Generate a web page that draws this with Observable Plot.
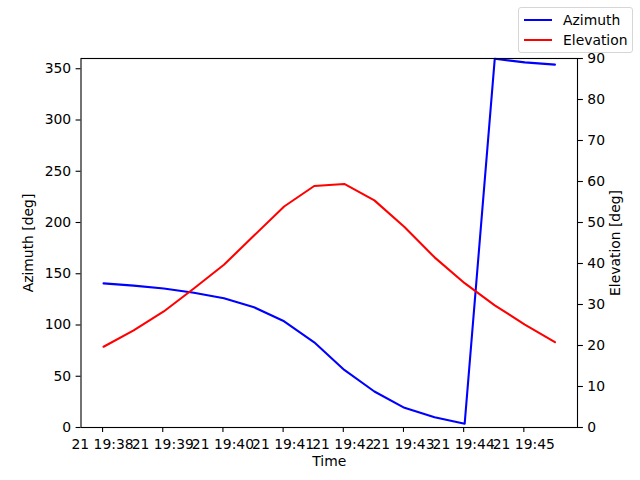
<!DOCTYPE html>
<html><head><meta charset="utf-8">
<script src="https://cdn.jsdelivr.net/npm/d3@7"></script>
<script src="https://cdn.jsdelivr.net/npm/@observablehq/plot@0.6"></script>
<style>
body{margin:0;background:#fff;}
#wrap{position:relative;width:640px;height:480px;font-family:"DejaVu Sans";font-size:13.9px;color:#000;}
#wrap svg{position:absolute;left:0;top:0;}
#legend{position:absolute;left:518px;top:7px;width:113px;height:44px;border:1px solid #d6d6d6;border-radius:3px;background:rgba(255,255,255,0.8);}
.item{position:absolute;left:0;height:20px;width:113px;}
.swatch{position:absolute;left:5px;top:9px;width:28px;height:2px;}
.lab{position:absolute;left:44px;top:1px;line-height:18px;white-space:nowrap;}
</style></head><body><div id="wrap"><div id="legend"></div></div>
<script>
// Sample times (UTC, day 21)
const times = ["19:38:01","19:38:31","19:39:01","19:39:31","19:40:01","19:40:31","19:41:01","19:41:31",
               "19:42:01","19:42:31","19:43:01","19:43:31","19:44:01","19:44:31","19:45:01","19:45:31"];
// Azimuth [deg]
const azimuth = [140.6, 138.4, 135.6, 131.5, 126.0, 117.3, 103.6, 83.1, 56.2, 35.1, 19.2, 10.0, 3.6, 359.7, 356.2, 354.0];
// Elevation [deg]
const elevation = [19.7, 23.7, 28.3, 33.9, 39.7, 46.8, 53.9, 58.9, 59.4, 55.4, 48.9, 41.5, 35.2, 29.8, 25.1, 20.8];
// Tick labels
const timeTicks = ["19:38","19:39","19:40","19:41","19:42","19:43","19:44","19:45"];
const azTicks = [0, 50, 100, 150, 200, 250, 300, 350];
const elTicks = [0, 10, 20, 30, 40, 50, 60, 70, 80, 90];
const seriesNames = ["Azimuth", "Elevation"];
const seriesColors = ["#0000ff", "#ff0000"];

const parse = d3.utcParse("%Y-%m-%d %H:%M:%S");
const parseTick = d3.utcParse("%Y-%m-%d %H:%M");
const rows = times.map((t, i) => ({time: parse("2021-01-21 " + t), az: azimuth[i], el: elevation[i]}));
const tickDates = timeTicks.map(t => parseTick("2021-01-21 " + t));
const [t0, t1] = d3.extent(rows, d => d.time);
const pad = (t1 - t0) * 0.05;
const xDomain = [new Date(+t0 - pad), new Date(+t1 + pad)];

const common = {
  width: 640, height: 480,
  marginLeft: 80.5, marginRight: 63, marginTop: 58, marginBottom: 53,
  style: {fontFamily: "DejaVu Sans", fontSize: "13.9px", color: "black", background: "transparent", overflow: "visible"}
};

const p1 = Plot.plot({
  ...common,
  x: {type: "utc", domain: xDomain},
  y: {domain: [0, 360]},
  marks: [
    Plot.axisX({ticks: tickDates, tickFormat: d => "21 " + d3.utcFormat("%H:%M")(d), tickSize: 4.9, tickPadding: 6.5, label: null, strokeWidth: 1.1, fontSize: 13.9}),
    Plot.axisY({ticks: azTicks, tickSize: 4.9, tickPadding: 4.9, label: null, strokeWidth: 1.1, fontSize: 13.9}),
    Plot.line(rows, {x: "time", y: "az", stroke: seriesColors[0], strokeWidth: 2.08}),
    Plot.frame({stroke: "black", strokeWidth: 1.1}),
    Plot.text(["Azimuth [deg]"], {frameAnchor: "left", dx: -52, rotate: -90, textAnchor: "middle", fontSize: 13.9}),
    Plot.text(["Time"], {frameAnchor: "bottom", dy: 38, textAnchor: "middle", fontSize: 13.9})
  ]
});

const p2 = Plot.plot({
  ...common,
  x: {type: "utc", domain: xDomain, axis: null},
  y: {domain: [0, 90], axis: null},
  marks: [
    Plot.axisY({anchor: "right", ticks: elTicks, tickSize: 4.9, tickPadding: 4.9, label: null, strokeWidth: 1.1, fontSize: 13.9}),
    Plot.line(rows, {x: "time", y: "el", stroke: seriesColors[1], strokeWidth: 2.08}),
    Plot.text(["Elevation [deg]"], {frameAnchor: "right", dx: 38, rotate: -90, textAnchor: "middle", fontSize: 13.9})
  ]
});

const wrap = document.getElementById("wrap");
wrap.insertBefore(p2, wrap.firstChild);
wrap.insertBefore(p1, wrap.firstChild);

const legend = document.getElementById("legend");
seriesNames.forEach((name, i) => {
  const item = document.createElement("div");
  item.className = "item";
  item.style.top = (2 + i * 20) + "px";
  const sw = document.createElement("div");
  sw.className = "swatch";
  sw.style.background = seriesColors[i];
  const lab = document.createElement("div");
  lab.className = "lab";
  lab.textContent = name;
  item.appendChild(sw);
  item.appendChild(lab);
  legend.appendChild(item);
});
</script>
</body></html>
